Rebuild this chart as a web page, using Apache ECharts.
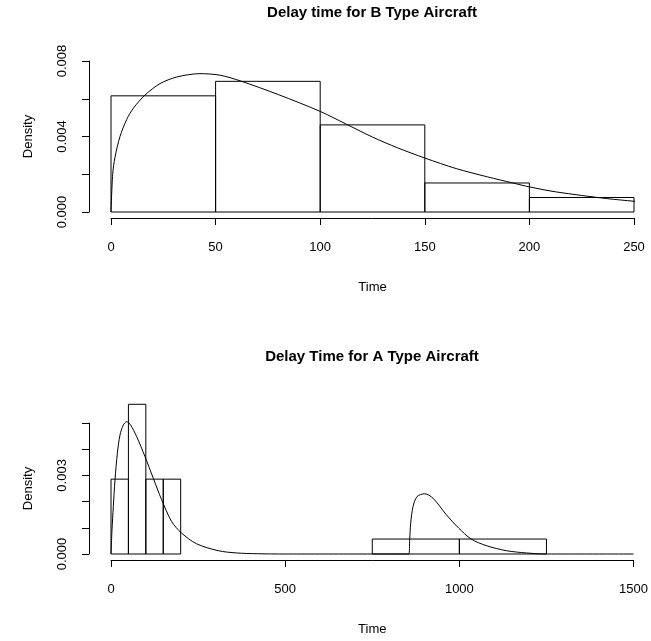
<!DOCTYPE html>
<html>
<head>
<meta charset="utf-8">
<script src="https://cdn.jsdelivr.net/npm/echarts@6/dist/echarts.min.js"></script>
<style>
html,body{margin:0;padding:0;background:#fff;}
#chart{width:651px;height:641px;}
</style>
</head>
<body>
<div id="chart"></div>
<script>
// ---- Top panel: B type aircraft ----
const topTitle = 'Delay time for B Type Aircraft';
const topBinStart = [0, 50, 100, 150, 200];
const topBinEnd = [50, 100, 150, 200, 250];
const topDensity = [0.006154, 0.006923, 0.004615, 0.001538, 0.000769];
const topCurveX = [0, 0.8, 1.9, 4.3, 7.5, 10.7, 16.3, 23.4, 31.4, 42.5, 52, 61.7, 80, 100, 112, 125, 137, 150, 165, 180, 192, 200, 213, 237, 250, 258];
const topCurveY = [0, 0.0020, 0.0029, 0.0040, 0.0049, 0.0055, 0.0062, 0.0068, 0.00715, 0.00733, 0.00725, 0.00695, 0.00622, 0.00533, 0.00468, 0.00397, 0.0034, 0.00286, 0.0023, 0.00186, 0.00154, 0.00133, 0.00106, 0.00071, 0.00057, 0.00048];
const topYLabels = ['0.000', '', '0.004', '', '0.008'];
const topXLabels = ['0', '50', '100', '150', '200', '250'];

// ---- Bottom panel: A type aircraft ----
const bottomTitle = 'Delay Time for A Type Aircraft';
const bottomBinStart = [0, 50, 100, 150, 750, 1000];
const bottomBinEnd = [50, 100, 150, 200, 1000, 1250];
const bottomDensity = [0.002857, 0.005714, 0.002857, 0.002857, 0.000571, 0.000571];
const bottomCurveX = [0, 2.9, 6.7, 11.5, 18.2, 25.8, 35.4, 45, 56.4, 73.7, 97.5, 121.4, 145.4, 174, 202.6, 245.7, 307.8, 360, 420, 500, 855, 857.4, 860.3, 867, 878.5, 900.5, 924.3, 962.5, 998, 1034, 1077, 1135, 1192, 1249, 1500];
const bottomCurveY = [0, 0.00093, 0.00181, 0.00283, 0.00384, 0.00454, 0.00492, 0.00505, 0.00492, 0.00448, 0.00372, 0.00289, 0.00207, 0.00124, 0.0008, 0.00039, 0.000126, 0.00004, 0.00001, 0, 0, 0.00054, 0.00118, 0.00181, 0.00219, 0.0023, 0.00213, 0.0015, 0.00099, 0.00057, 0.00032, 0.000126, 0.00004, 0, 0];
const bottomYLabels = ['0.000', '', '', '0.003', '', ''];
const bottomXLabels = ['0', '500', '1000', '1500'];

const FONT = 'Liberation Sans, Arial, Helvetica, sans-serif';
const BLACK = '#000';

function bins(s, e, d) { return s.map((v, i) => [v, e[i], d[i]]); }
function pts(xs, ys) { return xs.map((v, i) => [v, ys[i]]); }

function renderBar(params, api) {
  const p0 = api.coord([api.value(0), 0]);
  const p1 = api.coord([api.value(1), api.value(2)]);
  return {
    type: 'rect',
    shape: { x: p0[0], y: p1[1], width: p1[0] - p0[0], height: p0[1] - p1[1] },
    style: { fill: 'none', stroke: BLACK, lineWidth: 1 }
  };
}

function xAxisDef(gridIndex, min, max, interval, labels) {
  return {
    type: 'value', gridIndex, min, max, interval,
    offset: 6,
    name: 'Time', nameLocation: 'middle', nameGap: 63,
    nameTextStyle: { fontFamily: FONT, fontSize: 13, color: BLACK },
    axisLine: { show: true, onZero: false, lineStyle: { color: BLACK, width: 1 } },
    axisTick: { show: true, length: 7, lineStyle: { color: BLACK, width: 1 } },
    axisLabel: {
      margin: 23, fontFamily: FONT, fontSize: 13, color: BLACK,
      showMinLabel: true, showMaxLabel: true,
      formatter: (v, i) => labels[i] !== undefined ? labels[i] : ''
    },
    splitLine: { show: false }
  };
}

function yAxisDef(gridIndex, min, max, interval, labels) {
  return {
    type: 'value', gridIndex, min, max, interval,
    offset: 22,
    name: 'Density', nameLocation: 'middle', nameGap: 54,
    nameTextStyle: { fontFamily: FONT, fontSize: 13, color: BLACK },
    axisLine: { show: true, onZero: false, lineStyle: { color: BLACK, width: 1 } },
    axisTick: { show: true, length: 7, lineStyle: { color: BLACK, width: 1 } },
    axisLabel: {
      rotate: 90, margin: 20, fontFamily: FONT, fontSize: 13, color: BLACK,
      showMinLabel: true, showMaxLabel: true,
      formatter: (v, i) => labels[i] !== undefined ? labels[i] : ''
    },
    splitLine: { show: false }
  };
}

const chart = echarts.init(document.getElementById('chart'), null, { renderer: 'canvas' });
chart.setOption({
  backgroundColor: '#fff',
  animation: false,
  title: [
    { text: topTitle, left: 372, top: 5, textAlign: 'center', padding: 0,
      textStyle: { fontFamily: FONT, fontSize: 15, fontWeight: 'bold', color: BLACK } },
    { text: bottomTitle, left: 372, top: 349, textAlign: 'center', padding: 0,
      textStyle: { fontFamily: FONT, fontSize: 15, fontWeight: 'bold', color: BLACK } }
  ],
  grid: [
    { left: 111, width: 523, top: 61, height: 151 },
    { left: 111, width: 523, top: 423, height: 131 }
  ],
  xAxis: [
    xAxisDef(0, 0, 250, 50, topXLabels),
    xAxisDef(1, 0, 1500, 500, bottomXLabels)
  ],
  yAxis: [
    yAxisDef(0, 0, 0.008, 0.002, topYLabels),
    yAxisDef(1, 0, 0.005, 0.001, bottomYLabels)
  ],
  series: [
    { type: 'custom', xAxisIndex: 0, yAxisIndex: 0, renderItem: renderBar,
      encode: { x: [0, 1], y: 2 }, clip: false, data: bins(topBinStart, topBinEnd, topDensity) },
    { type: 'line', xAxisIndex: 0, yAxisIndex: 0, data: pts(topCurveX, topCurveY),
      showSymbol: false, smooth: 0.3, clip: false,
      lineStyle: { color: BLACK, width: 1 } },
    { type: 'custom', xAxisIndex: 1, yAxisIndex: 1, renderItem: renderBar,
      encode: { x: [0, 1], y: 2 }, clip: false, data: bins(bottomBinStart, bottomBinEnd, bottomDensity) },
    { type: 'line', xAxisIndex: 1, yAxisIndex: 1, data: pts(bottomCurveX, bottomCurveY),
      showSymbol: false, smooth: 0.3, clip: false,
      lineStyle: { color: BLACK, width: 1 } }
  ]
});
</script>
</body>
</html>
